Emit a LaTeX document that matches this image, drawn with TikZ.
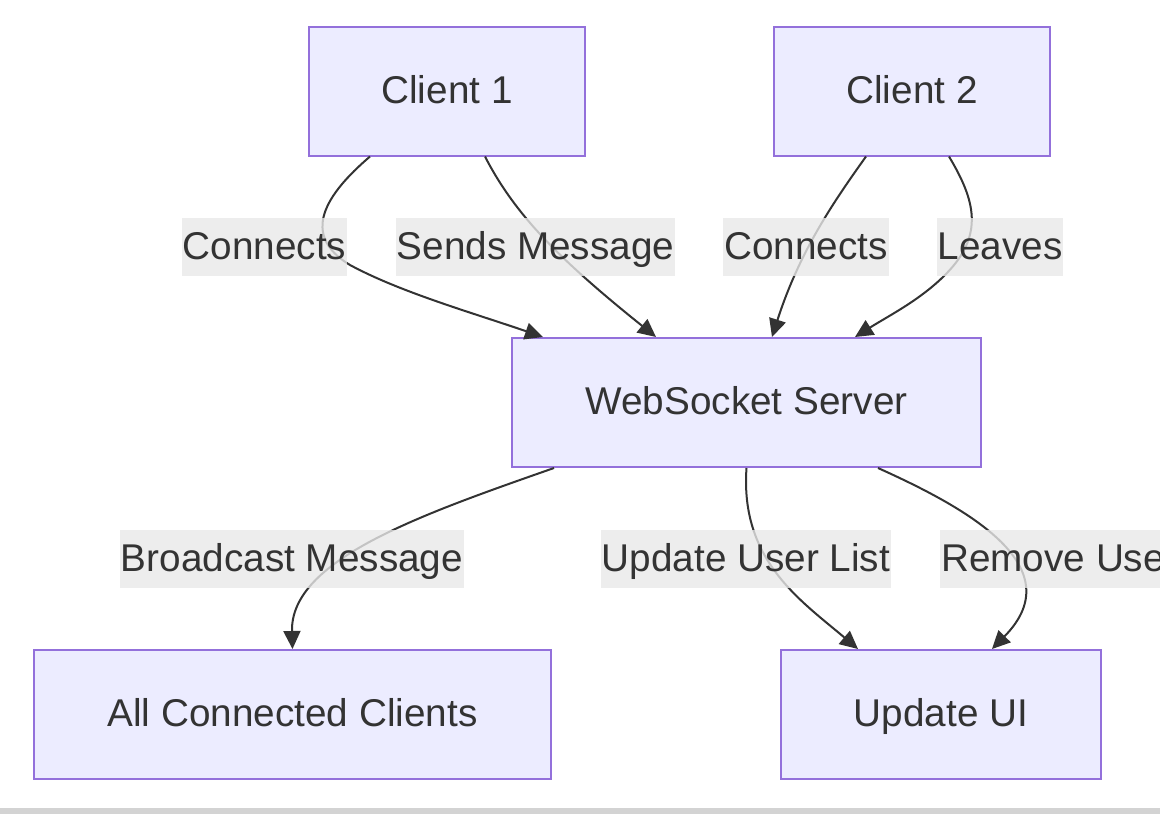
\documentclass[tikz,border=0pt]{standalone}
\usepackage{fontspec}
\setmainfont{Liberation Sans}
\usepackage{tikz}
\usetikzlibrary{arrows.meta,positioning}
\usepackage{xcolor}
\definecolor{boxfill}{HTML}{ECECFF}
\definecolor{boxline}{HTML}{9370DB}
\definecolor{txtgray}{HTML}{333333}
\definecolor{lblgray}{HTML}{E8E8E8}
\definecolor{bargray}{HTML}{D3D3D3}

\begin{document}
\begin{tikzpicture}[
    x=1pt, y=-1pt,
    every node/.style={
        font=\fontsize{38.7}{46}\selectfont,
        text=txtgray,
        text height=30pt,
        text depth=6pt
    },
    box/.style={
        draw=boxline,
        fill=boxfill,
        line width=2pt,
        minimum height=129pt,
        inner sep=0pt
    },
    lbl/.style={
        fill=lblgray,
        fill opacity=0.8,
        text opacity=1,
        minimum height=58pt,
        inner xsep=1pt,
        inner ysep=0pt
    },
    flow/.style={
        draw=txtgray,
        line width=2pt,
        -{Triangle[length=18pt,width=17pt]}
    }
]
\useasboundingbox (0,0) rectangle (1160,814);
\clip (0,0) rectangle (1160,814);

% -------- Boxes --------
\node[box, minimum width=276pt] (c1) at (447,91) {Client 1};
\node[box, minimum width=276pt] (c2) at (912,91) {Client 2};
\node[box, minimum width=469pt] (srv) at (746.5,402.5) {WebSocket Server};
\node[box, minimum width=517pt] (all) at (292.5,714.5) {All Connected Clients};
\node[box, minimum width=320pt] (ui) at (941,714.5) {Update UI};

% -------- Edges --------
\draw[flow] ([xshift=-77pt]c1.south) .. controls (325,195) and (300,235) .. (350,265)
    .. controls (400,292) and (470,312) .. ([xshift=-203.5pt]srv.north);
\draw[flow] ([xshift=38pt]c1.south) .. controls (515,215) and (560,260) .. ([xshift=-90.5pt]srv.north);
\draw[flow] ([xshift=-46pt]c2.south) .. controls (835,200) and (800,250) .. ([xshift=25.5pt]srv.north);
\draw[flow] ([xshift=37pt]c2.south) .. controls (975,200) and (985,235) .. (945,275)
    .. controls (920,300) and (890,315) .. ([xshift=108.5pt]srv.north);
\draw[flow] ([xshift=-192.5pt]srv.south) .. controls (420,515) and (290,560) .. (all.north);
\draw[flow] (srv.south) .. controls (740,560) and (800,600) .. ([xshift=-83pt]ui.north);
\draw[flow] ([xshift=131.5pt]srv.south) .. controls (960,505) and (1075,565) .. ([xshift=51pt]ui.north);

% -------- Edge labels --------
\node[lbl] (lconA) at (264.5,247) {Connects};
\node[lbl] (lsend) at (535.5,247) {Sends Message};
\node[lbl] (lconB) at (806,247) {Connects};
\node[lbl] (lleave) at (1000,247) {Leaves};
\node[lbl] (lcast) at (292,559) {Broadcast Message};
\node[lbl] (lupd) at (746,559) {Update User List};
\node[lbl, anchor=west] (lrem) at (940,559) {Remove User};

% -------- Bottom bar --------
\fill[bargray] (0,808) rectangle (1160,814);

\end{tikzpicture}
\end{document}
